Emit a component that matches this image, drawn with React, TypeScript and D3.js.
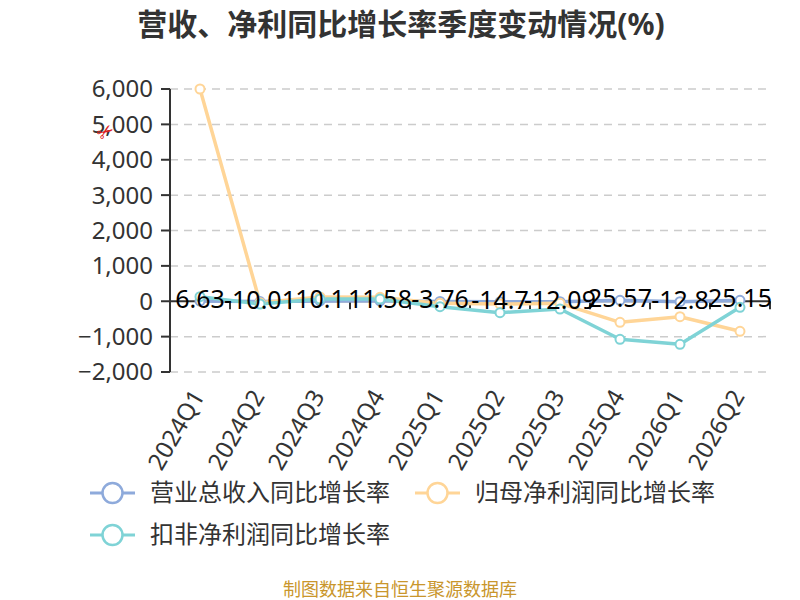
import * as d3 from 'd3';

const categories = ['2024Q1', '2024Q2', '2024Q3', '2024Q4', '2025Q1', '2025Q2', '2025Q3', '2025Q4', '2026Q1', '2026Q2'];
const revenueGrowth = [6.63, -10.01, 10.1, 11.58, -3.76, -14.7, -12.09, 25.57, -12.8, 25.15];
const netProfitGrowth = [6000, -40, 120, 110, -60, -80, -60, -595, -437, -850];
const deductedProfitGrowth = [130, -78, 63, 63, -154, -323, -220, -1075, -1217, -171];
const yTicks = [-2000, -1000, 0, 1000, 2000, 3000, 4000, 5000, 6000];

const seriesNames = ['营业总收入同比增长率', '归母净利润同比增长率', '扣非净利润同比增长率'];
const seriesColors = ['#8eaadb', '#ffd597', '#7fd3d6'];

const FONT = '"Noto Sans", "Noto Sans CJK SC", sans-serif';

export default function App() {
  const width = 800;
  const height = 600;
  const left = 170;
  const right = 770;

  const x = d3.scaleBand<string>().domain(categories).range([left, right]);
  const y = d3.scaleLinear().domain([-2000, 6000]).range([372, 89]);
  const cx = (c: string) => (x(c) || 0) + x.bandwidth() / 2;

  const line = d3
    .line<number>()
    .x((_d, i) => cx(categories[i]))
    .y((d) => y(d));

  const series = [revenueGrowth, netProfitGrowth, deductedProfitGrowth];
  const fmt = d3.format(',');
  const boundaries = categories.map((c) => x(c) || 0).concat([right]);

  return (
    <svg
      width={width}
      height={height}
      style={{ position: 'absolute', left: 0, top: 0, background: '#fff' }}
      fontFamily={FONT}
    >
      <text x={401} y={35} textAnchor="middle" fontSize={30} fontWeight="bold" fill="#333">
        营收、净利同比增长率季度变动情况(%)
      </text>

      {/* grid lines */}
      {yTicks
        .filter((t) => t !== 0)
        .map((t) => (
          <line key={t} x1={left} x2={right} y1={y(t)} y2={y(t)} stroke="#ccc" strokeWidth={1.5} strokeDasharray="8,6" />
        ))}

      {/* y axis */}
      <line x1={left} x2={left} y1={y(6000)} y2={y(-2000)} stroke="#333" strokeWidth={2} />
      {yTicks.map((t) => (
        <g key={t}>
          <line x1={left - 9} x2={left} y1={y(t)} y2={y(t)} stroke="#333" strokeWidth={2} />
          <text x={left - 17} y={y(t)} dy="0.35em" textAnchor="end" fontSize={24} fill="#333">
            {fmt(t)}
          </text>
        </g>
      ))}

      <text x={96} y={138} fontSize={20} fill="#e02020" fontFamily="DejaVu Sans" transform="rotate(-35 106 130)">
        ✂
      </text>

      {/* x axis on zero */}
      <line x1={left} x2={right} y1={y(0)} y2={y(0)} stroke="#333" strokeWidth={2} />
      {boundaries.map((b, i) => (
        <line key={i} x1={b} x2={b} y1={y(0)} y2={y(0) + 8} stroke="#333" strokeWidth={2} />
      ))}
      {categories.map((c) => (
        <text
          key={c}
          x={cx(c) - 2}
          y={392}
          dy="0.35em"
          textAnchor="end"
          fontSize={24}
          fill="#333"
          transform={`rotate(-60 ${cx(c) - 2} 392)`}
        >
          {c}
        </text>
      ))}

      {/* lines */}
      {series.map((s, i) => (
        <path key={i} d={line(s) || ''} fill="none" stroke={seriesColors[i]} strokeWidth={3.5} strokeLinejoin="round" />
      ))}
      {series.map((s, i) =>
        s.map((v, j) => (
          <circle
            key={`${i}-${j}`}
            cx={cx(categories[j])}
            cy={y(v)}
            r={4.5}
            fill="#fff"
            stroke={seriesColors[i]}
            strokeWidth={2}
          />
        ))
      )}

      {/* revenue labels */}
      {revenueGrowth.map((v, j) => (
        <text key={j} x={cx(categories[j])} y={y(v) + 7} textAnchor="middle" fontSize={25} fill="#000">
          {v}
        </text>
      ))}

      {/* legend */}
      {seriesNames.map((name, i) => {
        const lx = i === 1 ? 415 : 90;
        const ly = i === 2 ? 535 : 493;
        return (
          <g key={name}>
            <line x1={lx} x2={lx + 45} y1={ly} y2={ly} stroke={seriesColors[i]} strokeWidth={3} />
            <circle cx={lx + 22.5} cy={ly} r={10} fill="#fff" stroke={seriesColors[i]} strokeWidth={2.5} />
            <text x={lx + 60} y={ly} dy="0.35em" fontSize={24} fill="#333">
              {name}
            </text>
          </g>
        );
      })}

      <text x={400} y={596} textAnchor="middle" fontSize={18} fill="#c9962c">
        制图数据来自恒生聚源数据库
      </text>
    </svg>
  );
}
